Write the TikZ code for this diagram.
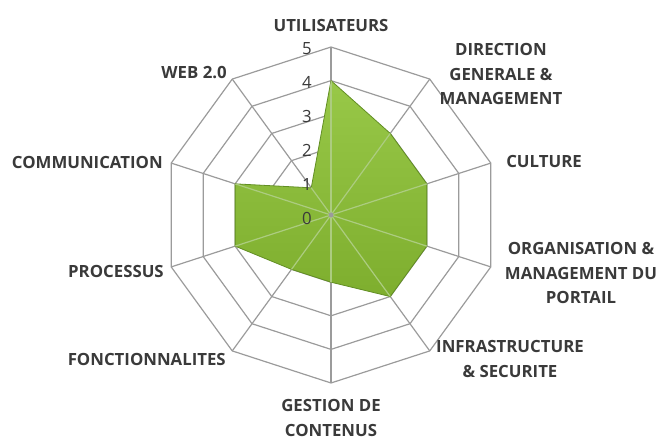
\documentclass[tikz,border=0pt]{standalone}
\usepackage{fontspec}
\setmainfont{Open Sans}
\usetikzlibrary{calc}
\begin{document}
\begin{tikzpicture}[x=0.75pt,y=0.75pt]
\definecolor{gridc}{RGB}{155,155,155}
\definecolor{lbl}{RGB}{58,58,58}
\definecolor{gtop}{RGB}{152,200,72}
\definecolor{gbot}{RGB}{126,174,46}
\definecolor{gedge}{RGB}{98,142,36}
\definecolor{spokeg}{RGB}{172,204,128}
\tikzset{
  lab/.style={font=\fontsize{12.6}{18.6}\selectfont\bfseries, text=lbl, inner sep=0pt, align=center},
  num/.style={font=\fontsize{12.6}{14}\selectfont, text=lbl, inner sep=0pt},
  gridline/.style={draw=gridc, line width=0.9pt, line join=miter},
  spoke/.style={draw=gridc, line width=0.9pt},
  series/.style={top color=gtop, bottom color=gbot, draw=gedge, line width=0.6pt, line join=round}
}
\useasboundingbox (0,0) rectangle (661,439);
\coordinate (C) at (331,224);
% spoke end points and data points
\foreach \i/\v in {0/4,1/3,2/3,3/3,4/3,5/2,6/2,7/3,8/3,9/1}{
  \coordinate (s\i) at ($(C)+({90-36*\i}:168)$);
  \coordinate (d\i) at ($(C)+({90-36*\i}:{\v*33.6})$);
}
% rings
\foreach \k in {1,...,5}{
  \foreach \i in {0,...,9}{
    \coordinate (r\k-\i) at ($(C)+({90-36*\i}:{\k*33.6})$);
  }
  \draw[gridline] (r\k-0) -- (r\k-1) -- (r\k-2) -- (r\k-3) -- (r\k-4) -- (r\k-5) -- (r\k-6) -- (r\k-7) -- (r\k-8) -- (r\k-9) -- cycle;
}
% spokes
\foreach \i in {0,...,9}{
  \draw[spoke] (C) -- (s\i);
}
% data polygon
\path[series] (d0) -- (d1) -- (d2) -- (d3) -- (d4) -- (d5) -- (d6) -- (d7) -- (d8) -- (d9) -- cycle;
\begin{scope}
  \clip (d0) -- (d1) -- (d2) -- (d3) -- (d4) -- (d5) -- (d6) -- (d7) -- (d8) -- (d9) -- cycle;
  \foreach \i in {0,...,9}{
    \draw[draw=spokeg, line width=0.9pt] (C) -- (s\i);
  }
\end{scope}
\fill[gridc] (C) circle (2.5);
% scale numbers
\foreach \k in {0,...,5}{
  \node[num] (n\k) at (307,{221+33.8*\k}) {\k};
}
% axis labels
\node[lab] (l0) at (331,413) {UTILISATEURS};
\node[lab] (l1) at (501,365) {DIRECTION\\GENERALE \&\\MANAGEMENT};
\node[lab, anchor=west] (l2) at (506,277) {CULTURE};
\node[lab] (l3) at (581,166) {ORGANISATION \&\\MANAGEMENT DU\\PORTAIL};
\node[lab] (l4) at (510,80) {INFRASTRUCTURE\\\& SECURITE};
\node[lab] (l5) at (331,21) {GESTION DE\\CONTENUS};
\node[lab, anchor=east] (l6) at (226,80) {FONCTIONNALITES};
\node[lab, anchor=east] (l7) at (164,168) {PROCESSUS};
\node[lab, anchor=east] (l8) at (163,277) {COMMUNICATION};
\node[lab, anchor=east] (l9) at (227,366) {WEB 2.0};
\end{tikzpicture}
\end{document}
